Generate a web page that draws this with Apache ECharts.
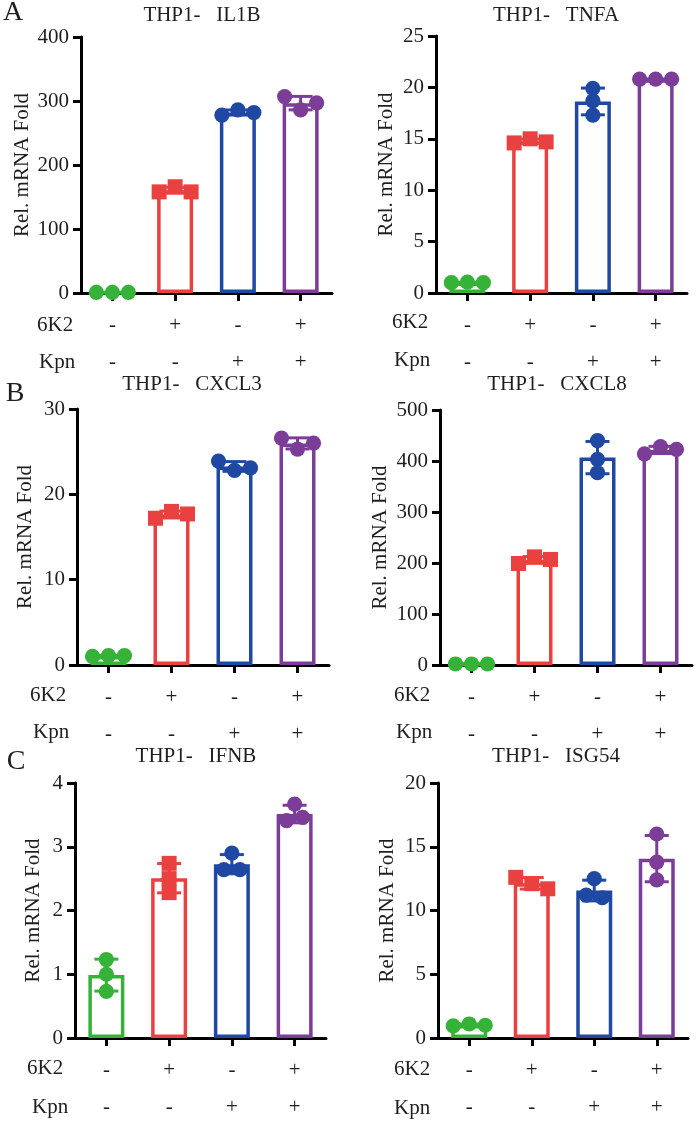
<!DOCTYPE html>
<html><head><meta charset="utf-8">
<script src="https://cdn.jsdelivr.net/npm/echarts@6/dist/echarts.min.js"></script>
<style>html,body{margin:0;padding:0;background:#fff}#c{width:698px;height:1121px}</style>
</head><body><div id="c"></div>
<script>
// ---------- data ----------
const groupColors = ['#36B238', '#E8413F', '#1F48A3', '#7C3D98'];
const sixK2Row = ['-', '+', '-', '+'];
const kpnRow = ['-', '-', '+', '+'];
const titles = ['THP1-   IL1B', 'THP1-   TNFA', 'THP1-   CXCL3', 'THP1-   CXCL8', 'THP1-   IFNB', 'THP1-   ISG54'];
const panelLetters = ['A', 'B', 'C'];
const yMax = [400, 25, 30, 500, 4, 20];
const yStep = [100, 5, 10, 100, 1, 5];
const yName = 'Rel. mRNA Fold';
const rowNames = ['6K2', 'Kpn'];

const il1b  = [[1, 1, 1], [158, 166, 158], [278, 286, 282], [307, 286, 297]];
const tnfa  = [[1.0, 1.05, 1.0], [14.6, 15.0, 14.7], [19.9, 18.7, 17.3], [20.8, 20.8, 20.8]];
const cxcl3 = [[1.0, 1.1, 1.1], [17.2, 18.0, 17.7], [23.9, 22.8, 23.1], [26.6, 25.3, 26.0]];
const cxcl8 = [[2, 2, 2], [199, 212, 207], [440, 403, 377], [414, 428, 423]];
const ifnb  = [[1.23, 1.0, 0.73], [2.74, 2.5, 2.28], [2.9, 2.64, 2.64], [3.67, 3.41, 3.46]];
const isg54 = [[0.95, 1.1, 1.0], [12.6, 12.1, 11.7], [12.5, 11.2, 11.0], [16.0, 13.8, 12.4]];
const panelData = [il1b, tnfa, cxcl3, cxcl8, ifnb, isg54];

// ---------- layout (pixels) ----------
const grids = [
  {left: 81, top: 37, width: 251, height: 256},
  {left: 436, top: 36, width: 251, height: 257},
  {left: 77, top: 409, width: 252, height: 256},
  {left: 440, top: 410, width: 252, height: 255},
  {left: 75, top: 783, width: 251, height: 255},
  {left: 438, top: 783, width: 250, height: 255}
];
const nameGaps = [48, 39, 41, 49, 31, 40];
const titlePos = [[202, 15], [556, 15], [192, 384], [557, 384], [196, 756], [556, 756]];
const letterPos = [[13, 13], [15, 394], [16, 762]];
const rowLabelPos = [
  [[37, 325], [39, 362]], [[392, 322], [394, 360]],
  [[30, 695], [33, 732]], [[394, 695], [396, 732]],
  [[27, 1068], [32, 1107]], [[394, 1069], [394, 1108]]
];

const FONT = 'Liberation Serif';
const FS = 21;
const TXT = '#1e1e1e';

function mean(a) { return a.reduce((s, v) => s + v, 0) / a.length; }
function sd(a) { const m = mean(a); return Math.sqrt(a.reduce((s, v) => s + (v - m) * (v - m), 0) / (a.length - 1)); }

function makeRender(groups) {
  return function (params, api) {
    const i = params.dataIndex;
    const pts = groups[i];
    const m = mean(pts), s = sd(pts);
    const color = groupColors[i];
    const top = api.coord([i, m + s]), bot = api.coord([i, m - s]);
    const capHalf = 12;
    const children = [];
    const ls = {stroke: color, lineWidth: 3};
    children.push({type: 'line', shape: {x1: top[0], y1: top[1], x2: bot[0], y2: bot[1]}, style: ls});
    children.push({type: 'line', shape: {x1: top[0] - capHalf, y1: top[1], x2: top[0] + capHalf, y2: top[1]}, style: ls});
    children.push({type: 'line', shape: {x1: bot[0] - capHalf, y1: bot[1], x2: bot[0] + capHalf, y2: bot[1]}, style: ls});
    // pixel positions of points, clustered to avoid overlap
    const py = pts.map(v => api.coord([i, v]));
    const order = pts.map((v, k) => k).sort((a, b) => py[a][1] - py[b][1]);
    const clusters = [];
    let cur = [order[0]];
    for (let k = 1; k < order.length; k++) {
      if (Math.abs(py[order[k]][1] - py[order[k - 1]][1]) < 10) cur.push(order[k]);
      else { clusters.push(cur); cur = [order[k]]; }
    }
    clusters.push(cur);
    const offs = new Array(pts.length).fill(0);
    clusters.forEach(c => {
      c.sort((a, b) => a - b);
      c.forEach((k, pos) => { offs[k] = (pos - (c.length - 1) / 2) * 16; });
    });
    py.forEach((p, k) => {
      const x = p[0] + offs[k], y = p[1];
      if (i === 1) {
        children.push({type: 'rect', shape: {x: x - 7.5, y: y - 7.5, width: 15, height: 15}, style: {fill: color}});
      } else {
        children.push({type: 'circle', shape: {cx: x, cy: y, r: 7.6}, style: {fill: color}});
      }
    });
    return {type: 'group', children: children};
  };
}

const option = {
  backgroundColor: '#ffffff',
  animation: false,
  grid: [], xAxis: [], yAxis: [], series: [], graphic: []
};

panelData.forEach((groups, p) => {
  option.grid.push(Object.assign({outerBoundsMode: 'none', containLabel: false}, grids[p]));
  option.xAxis.push({
    type: 'category', gridIndex: p, data: ['c1', 'c2', 'c3', 'c4'], boundaryGap: true,
    axisLine: {lineStyle: {color: '#000', width: 3}},
    axisTick: {show: true, alignWithLabel: true, length: 8, lineStyle: {color: '#000', width: 3}},
    axisLabel: {
      margin: 14, fontFamily: FONT, fontSize: FS, color: TXT, lineHeight: 37,
      formatter: (v, idx) => sixK2Row[idx] + '\n' + kpnRow[idx]
    },
    splitLine: {show: false}
  });
  option.yAxis.push({
    type: 'value', gridIndex: p, min: 0, max: yMax[p], interval: yStep[p],
    name: yName, nameLocation: 'middle', nameRotate: 90, nameGap: nameGaps[p],
    nameTextStyle: {fontFamily: FONT, fontSize: FS, color: TXT},
    axisLine: {show: true, lineStyle: {color: '#000', width: 3}},
    axisTick: {show: true, length: 8, lineStyle: {color: '#000', width: 3}},
    axisLabel: {margin: 12, fontFamily: FONT, fontSize: FS, color: TXT},
    splitLine: {show: false}
  });
  const means = groups.map(mean);
  option.series.push({
    type: 'bar', xAxisIndex: p, yAxisIndex: p, barWidth: 36, z: 2,
    data: means.map((m, i) => ({value: m, itemStyle: {color: '#ffffff', borderColor: groupColors[i], borderWidth: 3.5}}))
  });
  option.series.push({
    type: 'custom', xAxisIndex: p, yAxisIndex: p, z: 5, clip: false,
    data: means.map((m, i) => [i, m]),
    encode: {x: 0, y: 1},
    renderItem: makeRender(groups)
  });
  option.graphic.push({
    type: 'text', x: titlePos[p][0], y: titlePos[p][1],
    style: {text: titles[p], font: FS + 'px "' + FONT + '"', fill: TXT, textAlign: 'center', textVerticalAlign: 'middle'}
  });
  rowNames.forEach((rn, r) => {
    option.graphic.push({
      type: 'text', x: rowLabelPos[p][r][0], y: rowLabelPos[p][r][1],
      style: {text: rn, font: FS + 'px "' + FONT + '"', fill: TXT, textAlign: 'left', textVerticalAlign: 'middle'}
    });
  });
});
panelLetters.forEach((L, k) => {
  option.graphic.push({
    type: 'text', x: letterPos[k][0], y: letterPos[k][1],
    style: {text: L, font: '28px "' + FONT + '"', fill: TXT, textAlign: 'center', textVerticalAlign: 'middle'}
  });
});

const chart = echarts.init(document.getElementById('c'), null, {renderer: 'canvas'});
chart.setOption(option);
</script>
</body></html>
